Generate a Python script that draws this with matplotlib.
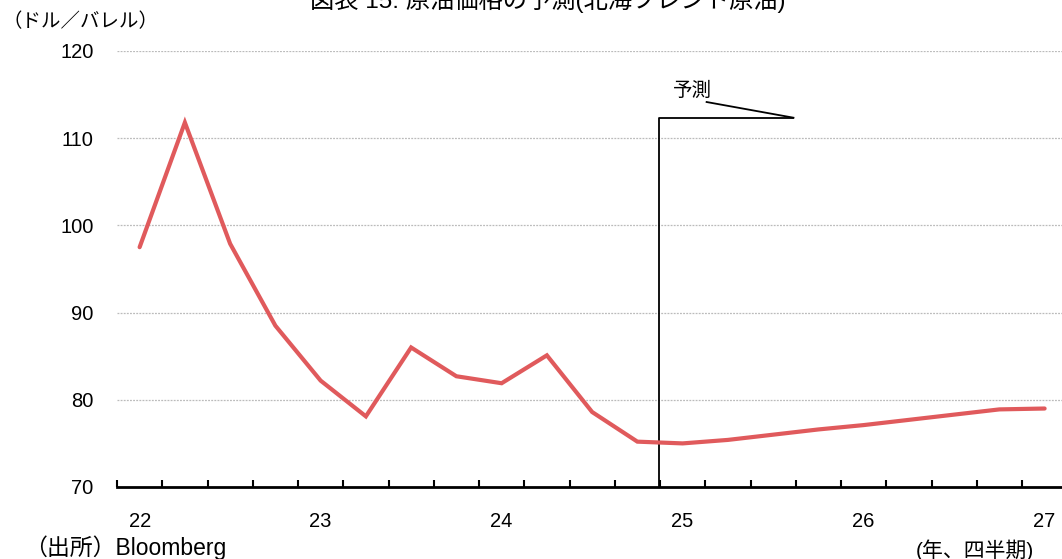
import matplotlib
matplotlib.use("Agg")
import matplotlib.pyplot as plt

plt.rcParams['font.family'] = ['Liberation Sans', 'Noto Sans CJK JP', 'DejaVu Sans']

quarters = ["22Q1", "22Q2", "22Q3", "22Q4", "23Q1", "23Q2", "23Q3", "23Q4",
            "24Q1", "24Q2", "24Q3", "24Q4", "25Q1", "25Q2", "25Q3", "25Q4",
            "26Q1", "26Q2", "26Q3", "26Q4", "27Q1"]
brent = [97.5, 111.8, 97.9, 88.5, 82.2, 78.1, 86.0, 82.7,
         81.9, 85.1, 78.6, 75.2, 75.0, 75.4, 76.0, 76.6,
         77.1, 77.7, 78.3, 78.9, 79.0]
year_labels = ["22", "23", "24", "25", "26", "27"]
yticks = [70, 80, 90, 100, 110, 120]

fig = plt.figure(figsize=(10.62, 5.59), dpi=100)
ax = fig.add_axes([117 / 1062, 1 - 487 / 559, 1 - 117 / 1062, (487 - 51) / 559])

x = list(range(len(quarters)))
ax.plot(x, brent, color='#E05A5C', lw=3.0, solid_capstyle='round', solid_joinstyle='miter', zorder=3)

ax.set_ylim(70, 120)
ax.set_xlim(-0.5, -0.5 + 945 / 45.25)
ax.set_yticks(yticks)
ax.set_yticklabels([str(v) for v in yticks], fontsize=14.5)
for v in yticks[1:]:
    ax.axhline(v, color='#BBBBBB', lw=0.9, ls=(0, (1.5, 1.0)), zorder=1)

major = [i for i, q in enumerate(quarters) if q.endswith("Q1")]
ax.set_xticks(major)
ax.set_xticklabels(year_labels, fontsize=14.5)
ax.set_xticks([i - 0.5 for i in range(len(quarters))], minor=True)
ax.tick_params(axis='x', which='major', length=0, pad=18)
ax.tick_params(axis='x', which='minor', direction='in', length=5, width=1.5, color='black')
ax.tick_params(axis='y', length=0, pad=17)

for s in ['left', 'right', 'top']:
    ax.spines[s].set_visible(False)
ax.spines['bottom'].set_linewidth(2)
ax.spines['bottom'].set_zorder(4)

# forecast marker
fx = 11.47
ax.plot([fx, fx, 14.45], [70, 112.35, 112.35], color='black', lw=1.3, zorder=2, clip_on=False)
ax.plot([14.45, 12.53], [112.35, 114.15], color='black', lw=1.3, zorder=2, clip_on=False)
ax.text(12.22, 115.4, "予測", fontsize=14, ha='center', va='center')

fig.text(548 / 1062, 1 - 8 / 559, "図表 15: 原油価格の予測(北海ブレント原油)", fontsize=17.5,
         ha='center', va='baseline')
fig.text(3 / 1062, 1 - 22 / 559, "（ドル／バレル）", fontsize=14, ha='left', va='center')
fig.text(24 / 1062, 1 - 548 / 559, "（出所）Bloomberg", fontsize=16.5, ha='left', va='center')
fig.text(916 / 1062, 1 - 550 / 559, "(年、四半期)", fontsize=15, ha='left', va='center')

fig.savefig("out.png", dpi=100)
